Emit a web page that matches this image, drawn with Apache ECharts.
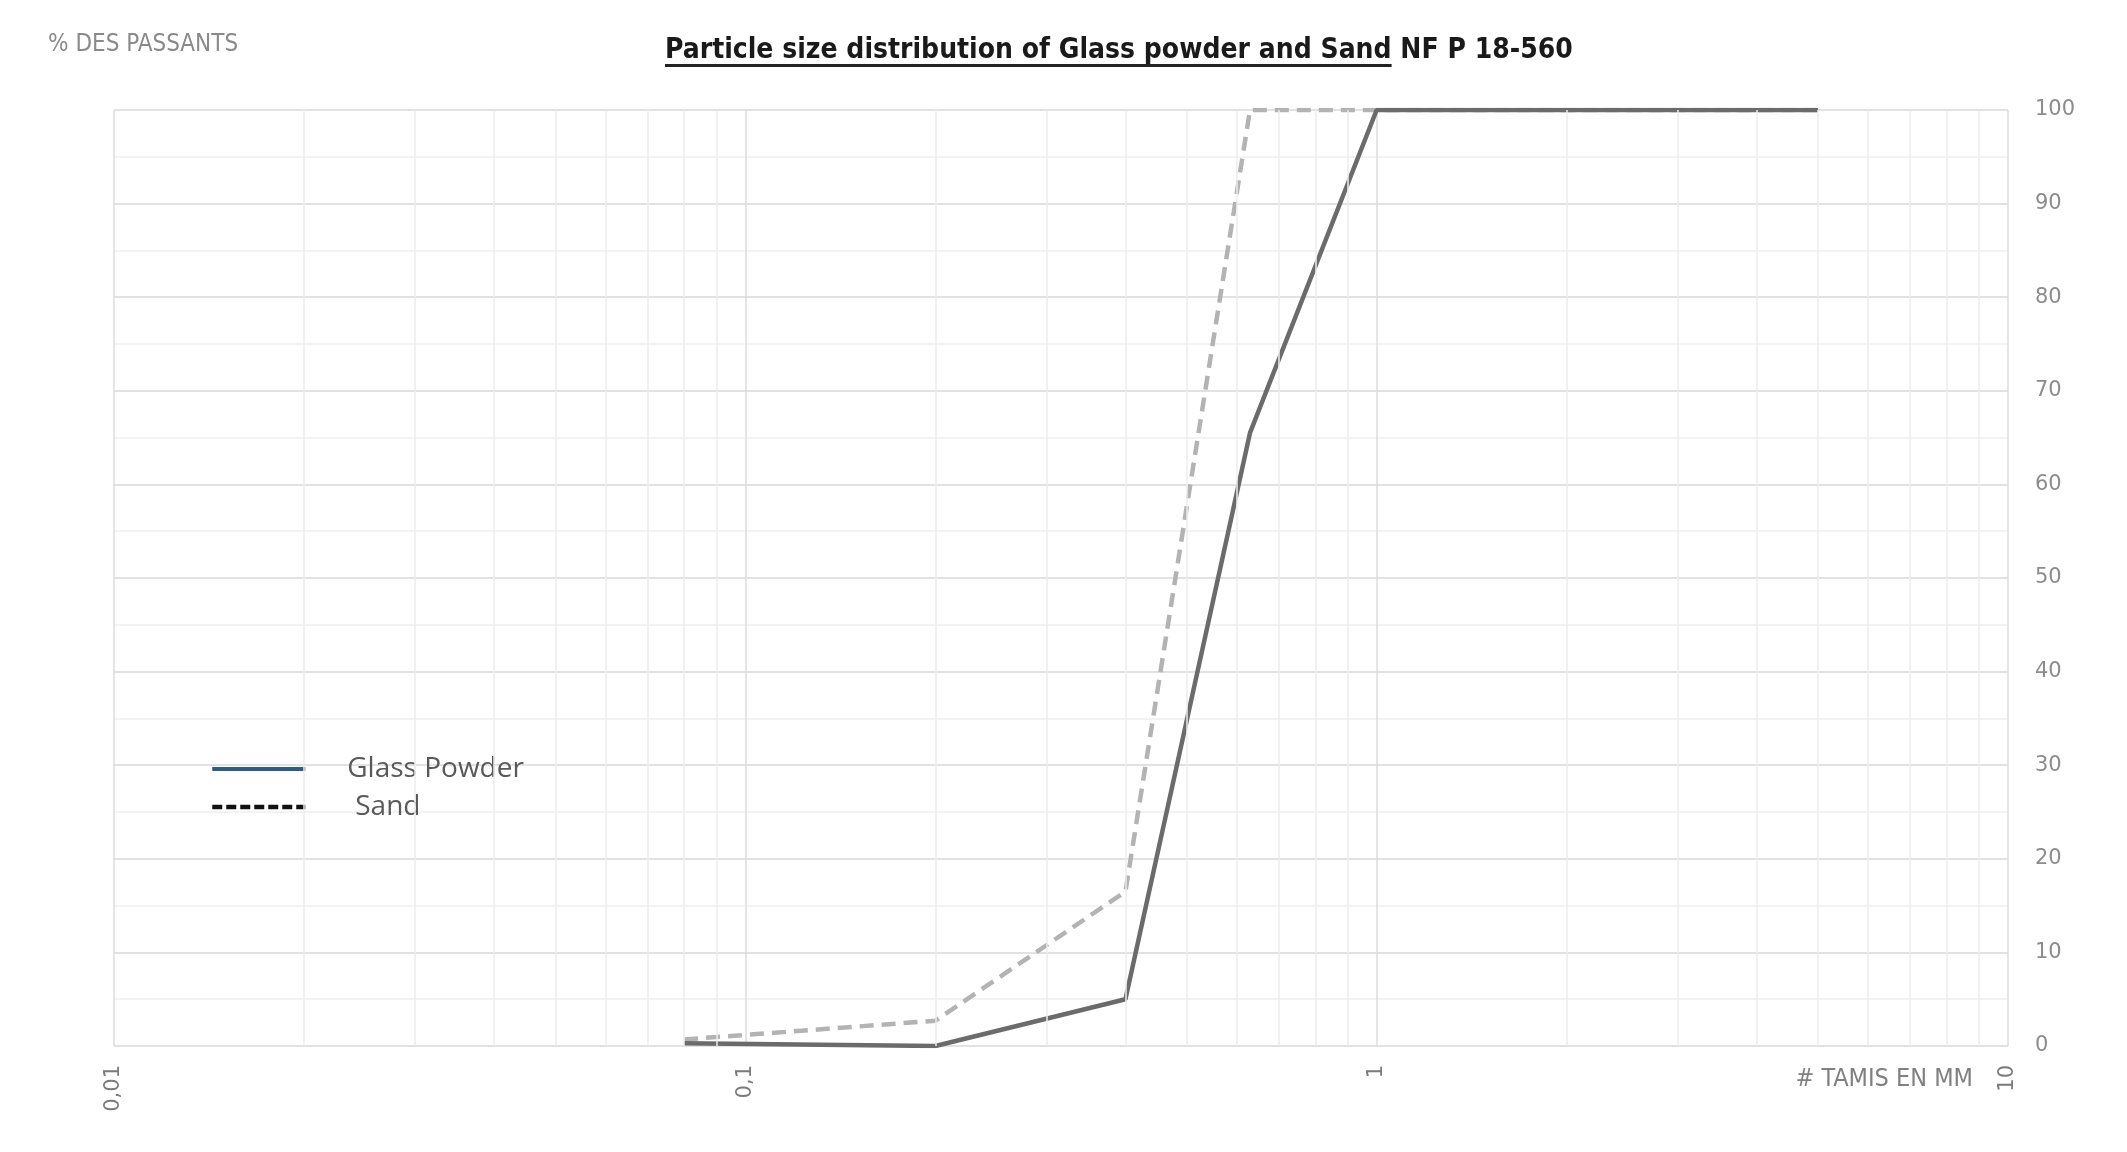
<!DOCTYPE html>
<html>
<head>
<meta charset="utf-8">
<script src="https://cdn.jsdelivr.net/npm/echarts@6/dist/echarts.min.js"></script>
<style>
  html, body { margin: 0; padding: 0; background: #fff; }
  #chart { width: 2127px; height: 1152px; }
</style>
</head>
<body>
<div id="chart"></div>
<script>
// sieve openings (mm) and % passing
const sieveSizes = [0.08, 0.2, 0.4, 0.63, 1, 5];
const glassPowder = [0.3, 0, 5, 65.5, 100, 100];
const sand = [0.7, 2.7, 16.5, 100, 100, 100];
// log grid: intermediate lines between decades
const minorSieves = [0.02, 0.03, 0.04, 0.05, 0.06, 0.07, 0.08, 0.09,
  0.2, 0.3, 0.4, 0.5, 0.6, 0.7, 0.8, 0.9,
  2, 3, 4, 5, 6, 7, 8, 9];

const titleMain = 'Particle size distribution of Glass powder and Sand';
const titleRest = ' NF P 18-560';
const narrow = "'DejaVu Sans Condensed', 'DejaVu Sans', sans-serif";

const myChart = echarts.init(document.getElementById('chart'));

// measure underlined part of the title
const ctx = document.createElement('canvas').getContext('2d');
ctx.font = "bold 28px " + narrow;
const underlineW = ctx.measureText(titleMain).width;

const toPairs = vals => sieveSizes.map((s, i) => [s, vals[i]]);

const option = {
  animation: false,
  backgroundColor: '#fff',
  grid: { left: 114, right: 119, top: 110, bottom: 106 },
  graphic: [
    {
      type: 'text', left: 48, top: 33,
      style: { text: '% DES PASSANTS', font: "24px " + narrow, fill: '#8a8a8a' }
    },
    {
      type: 'group', left: 665, top: 37,
      children: [
        {
          type: 'text', x: 0, y: 0,
          style: { text: titleMain + titleRest, font: "bold 28px " + narrow, fill: '#1a1a1a' }
        },
        {
          type: 'rect', shape: { x: 0, y: 27, width: underlineW, height: 3 },
          style: { fill: '#222' }
        }
      ]
    }
  ],
  legend: {
    orient: 'vertical',
    left: 205,
    top: 750,
    itemWidth: 93,
    itemHeight: 14,
    itemGap: 10,
    itemStyle: { opacity: 0 },
    textStyle: {
      fontFamily: 'Open Sans',
      fontSize: 28,
      lineHeight: 28,
      color: '#595959',
      padding: [0, 0, 0, 37]
    },
    data: [
      { name: 'Glass Powder', itemStyle: { opacity: 0 }, lineStyle: { color: '#2a5d8c', width: 4, type: 'solid' } },
      { name: 'Sand', itemStyle: { opacity: 0 }, lineStyle: { color: '#111', width: 4.5, type: [10, 4] },
        textStyle: { padding: [0, 0, 0, 45] } }
    ]
  },
  xAxis: {
    type: 'log',
    logBase: 10,
    min: 0.01,
    max: 10,
    name: '# TAMIS EN MM',
    nameLocation: 'end',
    nameGap: -35,
    nameTextStyle: {
      fontFamily: "'DejaVu Sans Condensed', 'DejaVu Sans', sans-serif",
      fontSize: 25,
      color: '#808080',
      align: 'right',
      verticalAlign: 'top',
      padding: [21, 0, 0, 0]
    },
    axisLine: { show: false },
    axisTick: { show: false },
    axisLabel: {
      rotate: 90,
      margin: 19,
      fontFamily: 'DejaVu Sans',
      fontSize: 21,
      color: '#7a7a7a',
      formatter: v => String(v).replace('.', ',')
    },
    splitLine: { show: true, lineStyle: { color: '#dcdcdc', width: 1.5 } }
  },
  yAxis: {
    type: 'value',
    position: 'right',
    min: 0,
    max: 100,
    interval: 10,
    axisLine: { show: false },
    axisTick: { show: false },
    axisLabel: {
      margin: 27,
      fontFamily: 'DejaVu Sans',
      fontSize: 21,
      color: '#8c8c8c'
    },
    splitLine: { show: true, lineStyle: { color: '#d9d9d9', width: 1.5 } },
    minorTick: { show: false, splitNumber: 2 },
    minorSplitLine: { show: true, lineStyle: { color: '#efefef', width: 1.5 } }
  },
  series: [
    {
      name: 'Sand',
      type: 'line',
      symbol: 'none',
      z: 2,
      lineStyle: { color: '#b3b3b3', width: 4.5, type: [14, 8] },
      itemStyle: { color: '#111' },
      data: toPairs(sand),
      markLine: {
        silent: true,
        symbol: 'none',
        label: { show: false },
        lineStyle: { color: '#ececec', width: 1.5, type: 'solid' },
        data: minorSieves.map(v => ({ xAxis: v }))
      }
    },
    {
      name: 'Glass Powder',
      type: 'line',
      symbol: 'none',
      z: 3,
      lineStyle: { color: '#6b6b6b', width: 4.5 },
      itemStyle: { color: '#2a5d8c' },
      data: toPairs(glassPowder)
    }
  ]
};

myChart.setOption(option);
</script>
</body>
</html>
